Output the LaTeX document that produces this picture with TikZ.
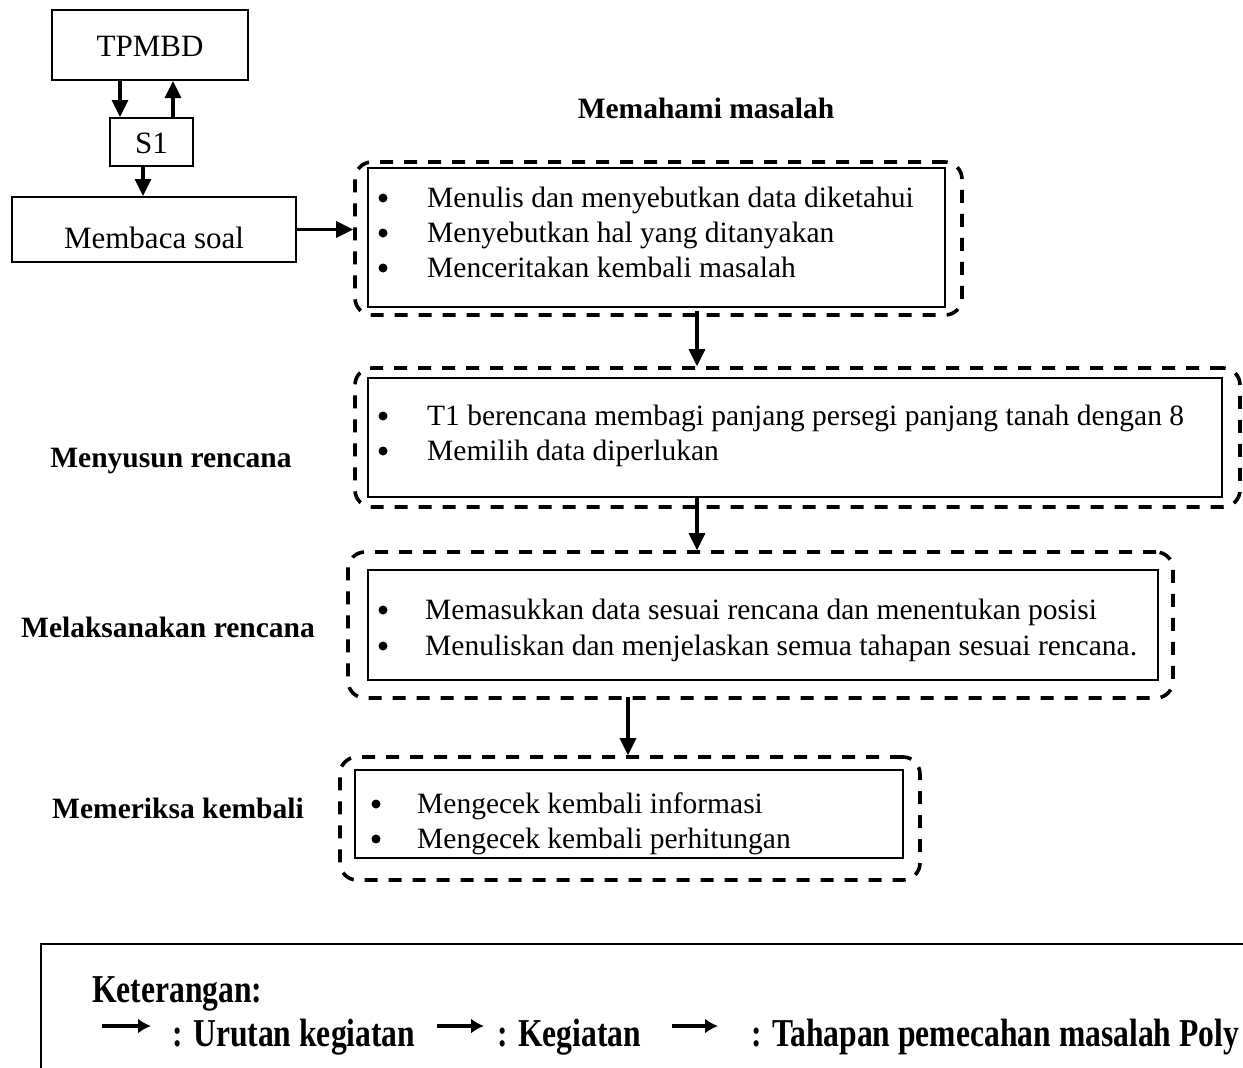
\documentclass[tikz,border=0pt]{standalone}
\usepackage{fontspec}
\setmainfont{Liberation Serif}
\usetikzlibrary{arrows.meta}

\begin{document}
\begin{tikzpicture}[x=1pt,y=-1pt,
  box/.style={draw, line width=2pt, inner sep=0pt, minimum width=#1},
  dbox/.style={draw, line width=3.6pt, dash pattern=on 13pt off 11pt,
               rounded corners=17pt, inner sep=0pt, minimum width=#1},
  arr/.style={line width=3.2pt, -{Triangle[length=17pt,width=16pt]}},
  legarr/.style={line width=4pt, -{Latex[length=13pt,width=15pt]}},
  plain/.style={font=\fontsize{29.5}{34}\selectfont, anchor=base west, inner sep=0pt},
  titled/.style={font=\fontsize{31}{36}\selectfont, anchor=base, inner sep=0pt},
  bul/.style={circle, fill, inner sep=0pt, minimum size=9pt},
  stage/.style={font=\fontsize{29.5}{34}\selectfont\bfseries, anchor=base, inner sep=0pt},
  legtxt/.style={font=\fontsize{39.5}{44}\selectfont\bfseries, anchor=base west,
                 inner sep=0pt, xscale=0.8},
]
\useasboundingbox (0,0) rectangle (1243,1068);
\clip (0,0) rectangle (1243,1068);

% --- subject and reading step -------------------------------------------
\node[box=196pt, minimum height=70pt] (tp) at (150,45) {};
\node[titled] (tpt) at (150,56) {TPMBD};
\node[box=83pt, minimum height=48pt] (s1) at (151.5,142) {};
\node[titled] (s1t) at (151.5,153) {S1};
\node[box=284pt, minimum height=65pt] (baca) at (154,229.5) {};
\node[titled] (bacat) at (154,248) {Membaca soal};

\coordinate (xdown) at (120,0);
\coordinate (xup) at (173,0);
\coordinate (xread) at (143,0);
\draw[arr] (tp.south -| xdown) -- (s1.north -| xdown);
\draw[arr] (s1.north -| xup) -- (tp.south -| xup);
\draw[arr] (s1.south -| xread) -- (baca.north -| xread);

% --- stage 1: understanding the problem ----------------------------------
\node[stage] (l1) at (706,118) {Memahami masalah};
\node[dbox=607pt, minimum height=153pt] (d1) at (658.5,238.5) {};
\node[box=577pt, minimum height=139pt] (i1) at (656.5,237.5) {};
\node[bul]   (b11) at (383,198) {};
\node[plain] (t11) at (427,207) {Menulis dan menyebutkan data diketahui};
\node[bul]   (b12) at (383,233) {};
\node[plain] (t12) at (427,242) {Menyebutkan hal yang ditanyakan};
\node[bul]   (b13) at (383,268) {};
\node[plain] (t13) at (427,277) {Menceritakan kembali masalah};
\draw[arr] (baca.east) -- (d1.west |- baca.east);

% --- stage 2: devising a plan --------------------------------------------
\node[stage] (l2) at (171,467) {Menyusun rencana};
\node[dbox=885pt, minimum height=139pt] (d2) at (797.5,437.5) {};
\node[box=854pt, minimum height=119pt] (i2) at (795,437.5) {};
\node[bul]   (b21) at (383,416) {};
\node[plain] (t21) at (427,425) {T1 berencana membagi panjang persegi panjang tanah dengan 8};
\node[bul]   (b22) at (383,451) {};
\node[plain] (t22) at (427,460) {Memilih data diperlukan};
\coordinate (x12) at (697,0);
\draw[arr] ([yshift=6pt]d1.south -| x12) -- (d2.north -| x12);

% --- stage 3: carrying out the plan --------------------------------------
\node[stage] (l3) at (168,637) {Melaksanakan rencana};
\node[dbox=825pt, minimum height=146pt] (d3) at (760.5,625) {};
\node[box=790pt, minimum height=110pt] (i3) at (763,625) {};
\node[bul]   (b31) at (383,610) {};
\node[plain] (t31) at (425,619) {Memasukkan data sesuai rencana dan menentukan posisi};
\node[bul]   (b32) at (383,646) {};
\node[plain] (t32) at (425,655) {Menuliskan dan menjelaskan semua tahapan sesuai rencana.};
\coordinate (x23) at (697,0);
\draw[arr] (i2.south -| x23) -- (d3.north -| x23);

% --- stage 4: looking back -----------------------------------------------
\node[stage] (l4) at (178,818) {Memeriksa kembali};
\node[dbox=580pt, minimum height=123pt] (d4) at (630,818.5) {};
\node[box=548pt, minimum height=88pt] (i4) at (629,814) {};
\node[bul]   (b41) at (376,804) {};
\node[plain] (t41) at (417,813) {Mengecek kembali informasi};
\node[bul]   (b42) at (376,839) {};
\node[plain] (t42) at (417,848) {Mengecek kembali perhitungan};
\coordinate (x34) at (628,0);
\draw[arr] ([yshift=3pt]d3.south -| x34) -- (d4.north -| x34);

% --- legend --------------------------------------------------------------
\draw[line width=2.2pt] (41,1080) -- (41,944) -- (1260,944);
\node[legtxt] (kt) at (92,1002) {Keterangan:};
\coordinate (la1) at (102,1026);
\coordinate (lb1) at (151,1026);
\coordinate (la2) at (437,1026);
\coordinate (lb2) at (484,1026);
\coordinate (la3) at (672,1026);
\coordinate (lb3) at (718,1026);
\draw[legarr] (la1) -- (lb1);
\draw[legarr] (la2) -- (lb2);
\draw[legarr] (la3) -- (lb3);
\node[legtxt] (k1) at (172,1046) {: Urutan kegiatan};
\node[legtxt] (k2) at (497,1046) {: Kegiatan};
\node[legtxt] (k3) at (751,1046) {: Tahapan pemecahan masalah Poly};
\end{tikzpicture}
\end{document}
